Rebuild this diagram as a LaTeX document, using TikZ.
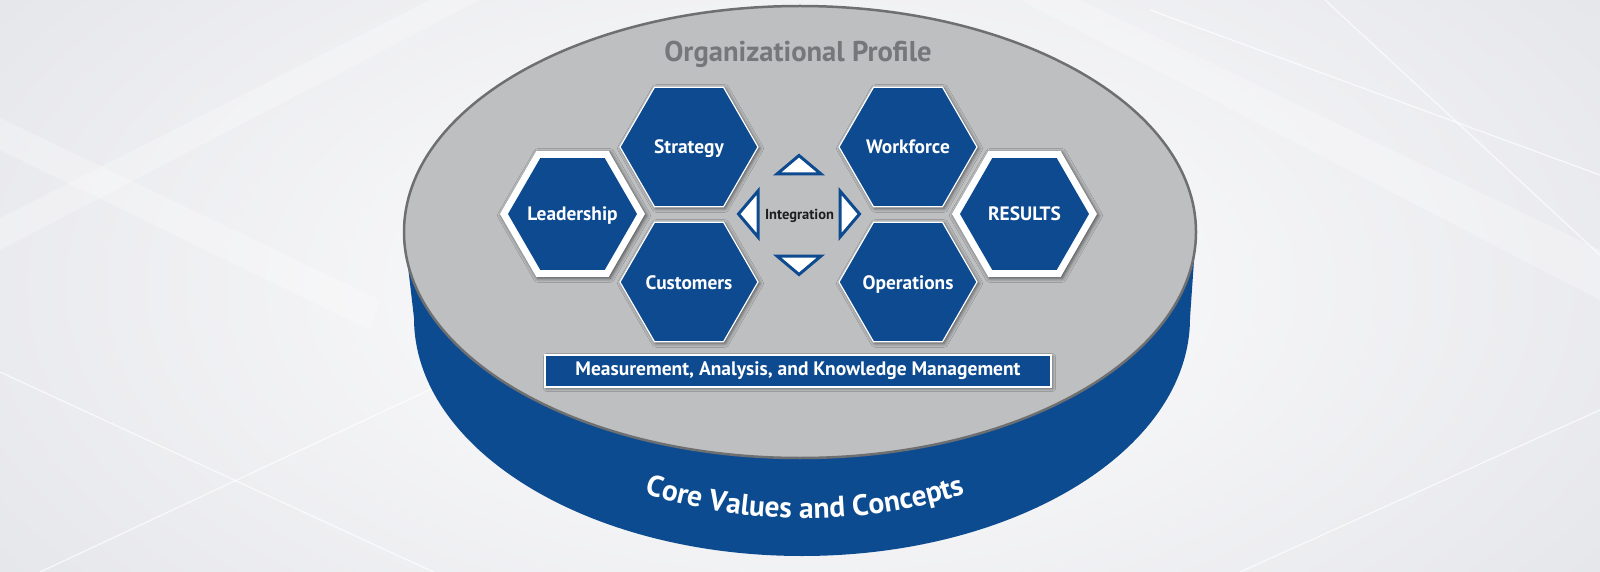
\documentclass[tikz,border=0pt]{standalone}
\usepackage{fontspec}
\setmainfont{PT Sans}
\usetikzlibrary{shadows.blur,decorations.text}
\definecolor{hexblue}{HTML}{0D4A8F}
\definecolor{bandblue}{HTML}{0D4B91}
\definecolor{topgrey}{HTML}{BEBFC1}
\definecolor{rimgrey}{HTML}{6E6F71}
\definecolor{profgrey}{HTML}{76777A}
\definecolor{bgedge}{HTML}{E1E2E7}
\definecolor{intgrey}{HTML}{1E1E1E}
\newcommand\hexshape[3]{\path[#1] (#2) +(0:#3) -- +(60:#3) -- +(120:#3) -- +(180:#3) -- +(240:#3) -- +(300:#3) -- cycle;}
\begin{document}
\begin{tikzpicture}[x=1pt,y=-1pt,
  hexblock/.style={fill=hexblue,draw=white,line width=1.2pt,
    blur shadow={shadow xshift=1.5pt,shadow yshift=-1.5pt,shadow blur radius=4pt,shadow opacity=60}},
  hexframe/.style={fill=white,
    blur shadow={shadow xshift=1.5pt,shadow yshift=-1.5pt,shadow blur radius=4pt,shadow opacity=60}},
  hexcore/.style={fill=hexblue},
  hexlabel/.style={text=white,anchor=base,inner sep=0pt,font=\bfseries\fontsize{19.4}{19.4}\selectfont},
  tri/.style={fill=white,draw=hexblue,line width=3pt,line join=miter},
  bgline/.style={draw=white,opacity=.7,line width=1.2pt},
  bgband/.style={fill=white,opacity=.25}]
\useasboundingbox (0,0) rectangle (1600,572);
% background
\fill[bgedge] (0,0) rectangle (1600,572);
\shade[inner color=white,outer color=bgedge] (-350,-330) rectangle (1950,902);
\fill[bgband] (0,218) -- (430,0) -- (480,0) -- (0,250) -- cycle;
\fill[bgband] (0,118) -- (0,150) -- (370,330) -- (380,300) -- cycle;
\fill[bgband] (1080,0) -- (1600,250) -- (1600,300) -- (1020,0) -- cycle;
\draw[bgline] (0,372) -- (440,575);
\draw[bgline] (40,572) -- (440,385);
\draw[bgline] (1325,0) -- (1600,255);
\draw[bgline] (1150,10) -- (1600,175);
\draw[bgline] (1240,572) -- (1600,410);
% cylinder
\fill[bandblue] (404,232) -- (414,318) arc[start angle=180,end angle=0,x radius=388,y radius=238] -- (1196,232) -- cycle;
\draw[rimgrey,line width=2.5pt,fill=topgrey] (800,232) ellipse[x radius=396,y radius=226];
% coordinates of hexagon centres
\coordinate (cL) at (572.5,214);
\coordinate (cS) at (689,147);
\coordinate (cC) at (689,282);
\coordinate (cW) at (908,147);
\coordinate (cO) at (908,282);
\coordinate (cR) at (1024.5,214);
% hexagons
\hexshape{hexframe}{cL}{72.5}
\hexshape{hexcore}{cL}{64.5}
\hexshape{hexframe}{cR}{72.5}
\hexshape{hexcore}{cR}{64.5}
\hexshape{hexblock}{cS}{69}
\hexshape{hexblock}{cC}{69}
\hexshape{hexblock}{cW}{69}
\hexshape{hexblock}{cO}{69}
% labels
\node[hexlabel] (leadership) at ([yshift=-7pt]cL) {Leadership};
\node[hexlabel] (strategy) at ([yshift=-7pt]cS) {Strategy};
\node[hexlabel] (customers) at ([yshift=-7pt]cC) {Customers};
\node[hexlabel] (workforce) at ([yshift=-7pt]cW) {Workforce};
\node[hexlabel] (operations) at ([yshift=-7pt]cO) {Operations};
\node[hexlabel] (results) at ([yshift=-7pt]cR) {RESULTS};
% integration
\node[text=intgrey,anchor=base,inner sep=0pt,font=\bfseries\fontsize{14.5}{14.5}\selectfont] (integration) at (799.5,219) {Integration};
\path[tri] (777,174) -- (821,174) -- (799,155.5) -- cycle;
\path[tri] (777,256) -- (821,256) -- (799,274.5) -- cycle;
\path[tri] (758,191) -- (758,237) -- (738.5,214) -- cycle;
\path[tri] (840,191) -- (840,237) -- (859.5,214) -- cycle;
% bar
\node[fill=hexblue,draw=white,line width=1.5pt,minimum width=506pt,minimum height=32pt,inner sep=0pt,
  text=white,font=\bfseries\fontsize{19.5}{19.5}\selectfont,
  blur shadow={shadow xshift=1.5pt,shadow yshift=-1.5pt,shadow blur radius=3pt,shadow opacity=50}]
  (makm) at (798,371) {Measurement, Analysis, and Knowledge Management};
% profile title
\node[text=profgrey,anchor=base,inner sep=0pt,font=\bfseries\fontsize{28.6}{28.6}\selectfont] (profile) at (798,61.5) {Organizational Profile};
% core values curved text
\path[decorate,decoration={text along path,text align=center,
   text={|\bfseries\fontsize{29.5}{29.5}\selectfont\color{white}|Core Values and Concepts}}]
   (805,322) ++(160:331 and 196) arc[start angle=160,end angle=20,x radius=331,y radius=196];
\end{tikzpicture}
\end{document}
